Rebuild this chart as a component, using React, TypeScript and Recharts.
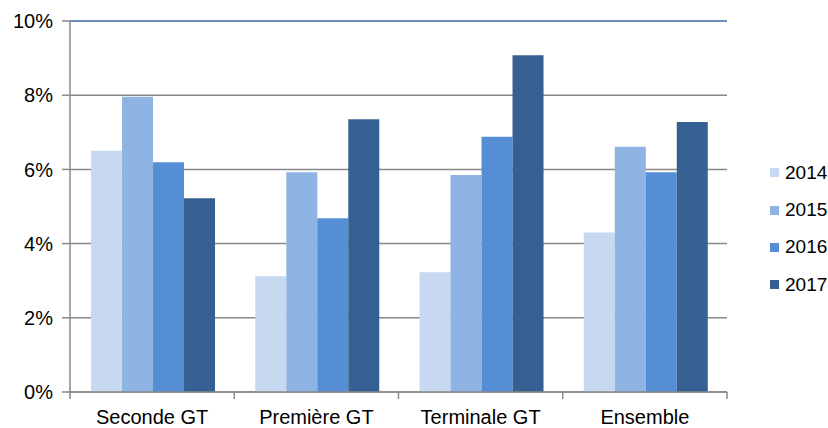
import { BarChart, Bar, XAxis, YAxis, CartesianGrid, Legend, ReferenceLine } from "recharts";

const categories = ["Seconde GT", "Première GT", "Terminale GT", "Ensemble"];
const years = ["2014", "2015", "2016", "2017"];
const values2014 = [6.5, 3.12, 3.23, 4.3];
const values2015 = [7.96, 5.92, 5.85, 6.61];
const values2016 = [6.19, 4.68, 6.88, 5.92];
const values2017 = [5.22, 7.35, 9.08, 7.28];
const yTicks = [0, 2, 4, 6, 8, 10];

const colors = ["#c6d9f1", "#8eb4e3", "#558ed5", "#366092"];
const series = [values2014, values2015, values2016, values2017];

const data = categories.map((name, i) => {
  const row: Record<string, string | number> = { name };
  years.forEach((y, j) => {
    row[y] = series[j][i];
  });
  return row;
});

const font = "'Liberation Sans', Arial, sans-serif";
const grey = "#898989";
const border = "#5b87c4";

function CategoryTick(props: any) {
  const { x, y, payload, index } = props;
  const half = payload && payload.offset ? payload.offset : 82;
  return (
    <g>
      <line x1={x - half} x2={x - half} y1={y - 8} y2={y - 1} stroke={grey} strokeWidth={1.5} />
      {index === categories.length - 1 && (
        <line x1={x + half} x2={x + half} y1={y - 8} y2={y - 1} stroke={grey} strokeWidth={1.5} />
      )}
      <text x={x} y={y + 24} textAnchor="middle" fontSize={20} fill="#000" fontFamily={font}>
        {payload.value}
      </text>
    </g>
  );
}

function LegendBox(props: any) {
  const items = props.payload || [];
  return (
    <div style={{ fontFamily: font, fontSize: 19, color: "#000" }}>
      {items.map((it: any) => (
        <div key={it.value} style={{ display: "flex", alignItems: "center", height: 37.4 }}>
          <span style={{ display: "inline-block", width: 9, height: 9, background: it.color, marginRight: 6 }} />
          <span>{it.value}</span>
        </div>
      ))}
    </div>
  );
}

export default function App() {
  return (
    <div style={{ position: "absolute", left: 0, top: 0, background: "#fff" }}>
      <BarChart
        width={828}
        height={428}
        data={data}
        margin={{ top: 21, right: 31, bottom: 0, left: 0 }}
        barCategoryGap="12.8%"
        barGap={0}
      >
        <CartesianGrid vertical={false} stroke={grey} strokeWidth={1.5} />
        <XAxis
          dataKey="name"
          height={36}
          axisLine={{ stroke: grey, strokeWidth: 1.5 }}
          tickLine={false}
          tick={<CategoryTick />}
          interval={0}
        />
        <YAxis
          width={70}
          domain={[0, 10]}
          ticks={yTicks}
          tickFormatter={(v: number) => `${v}%`}
          axisLine={{ stroke: grey, strokeWidth: 1.5 }}
          tickLine={{ stroke: grey, strokeWidth: 1.5 }}
          tickSize={8}
          tickMargin={9}
          tick={{ fontSize: 20, fill: "#000", fontFamily: font }}
        />
        <YAxis
          yAxisId="right"
          orientation="right"
          width={0}
          tick={false}
          tickLine={false}
          axisLine={{ stroke: border, strokeWidth: 1.5 }}
        />
        <ReferenceLine y={10} stroke={border} strokeWidth={1.5} />
        {years.map((y, j) => (
          <Bar key={y} dataKey={y} fill={colors[j]} isAnimationActive={false} />
        ))}
        <Legend
          layout="vertical"
          align="right"
          verticalAlign="top"
          content={<LegendBox />}
          wrapperStyle={{ left: 770, top: 154, width: 70 }}
        />
      </BarChart>
    </div>
  );
}
